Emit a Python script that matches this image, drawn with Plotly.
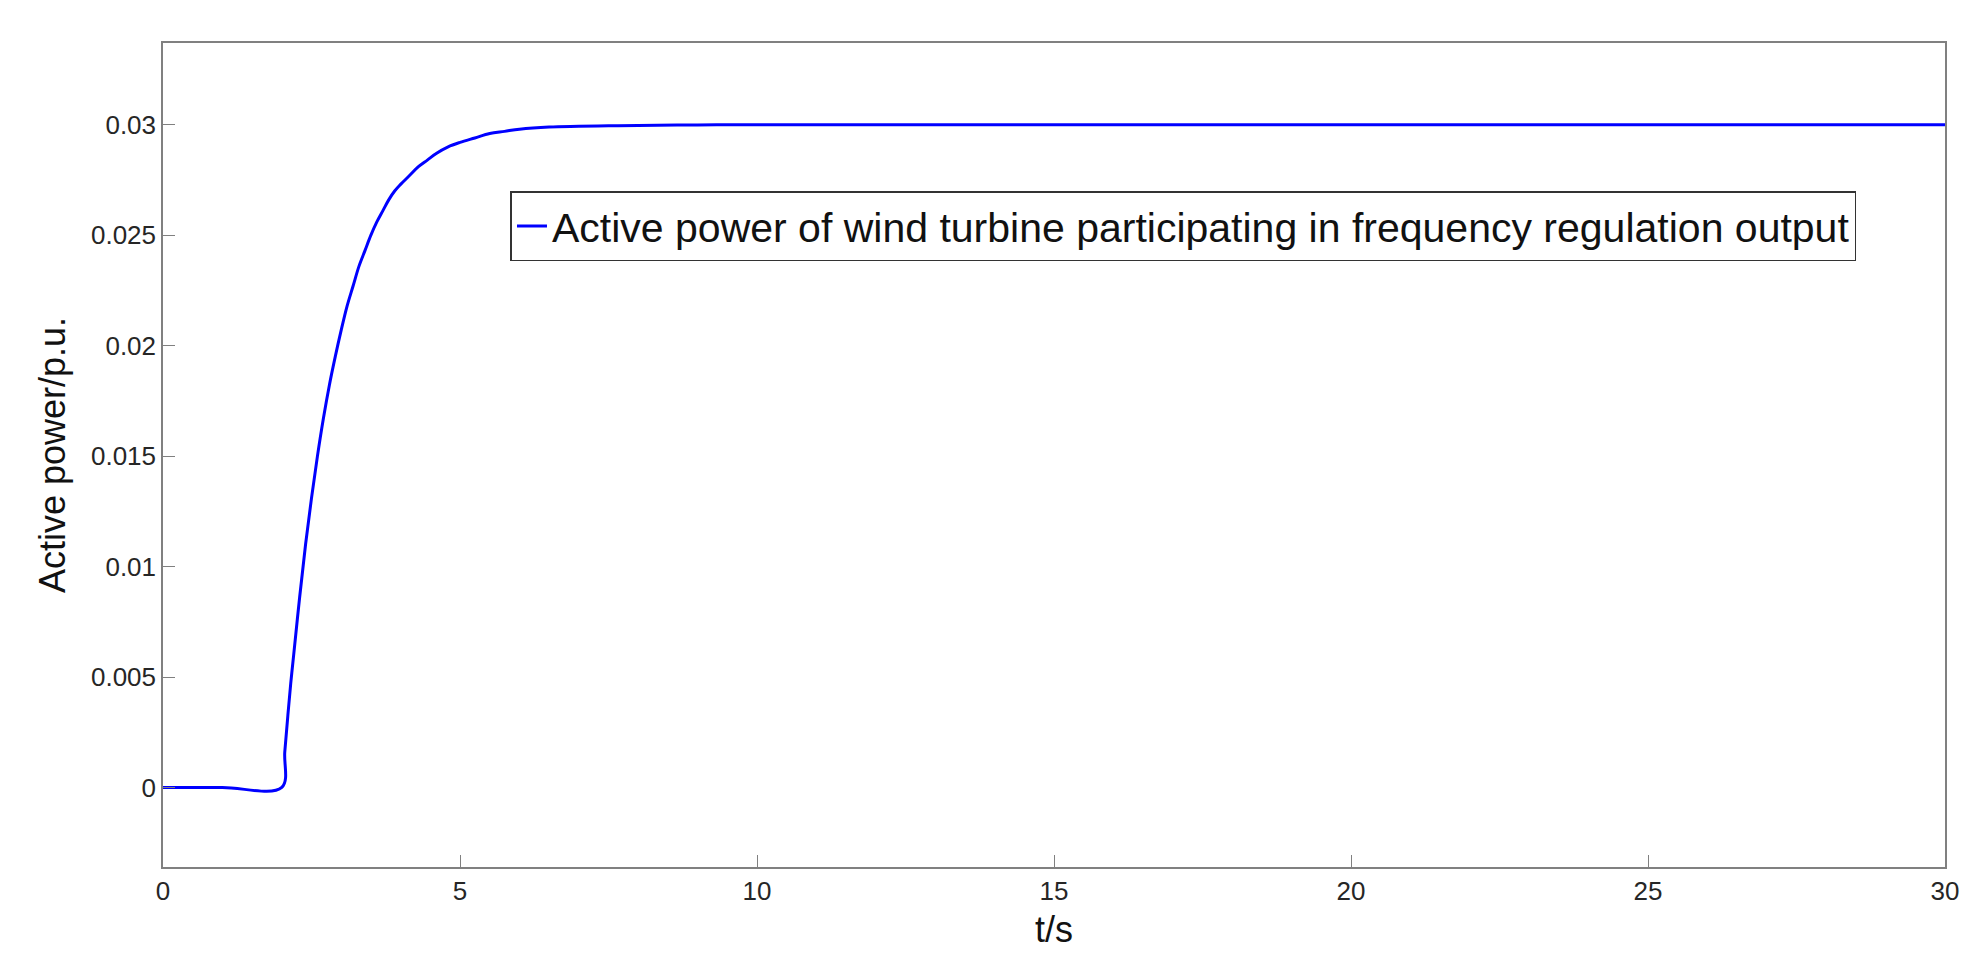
import plotly.graph_objects as go

t = [0, 1, 2, 2.05, 2.1, 2.15, 2.2, 2.3, 2.4, 2.5, 2.6, 2.7, 2.8, 2.9, 3.0, 3.1, 3.2, 3.3, 3.4, 3.5, 3.6, 3.7, 3.8, 3.9, 4.0, 4.15, 4.3, 4.45, 4.6, 4.8, 5.0, 5.25, 5.5, 5.75, 6.0, 6.5, 7, 7.5, 8, 9, 10, 12, 15, 20, 25, 30]
p = [0, 0, 0, 0.0016, 0.0032, 0.0047, 0.0060, 0.0086, 0.0110, 0.0131, 0.0150, 0.0167, 0.0182, 0.0195, 0.0207, 0.0218, 0.0227, 0.0236, 0.0243, 0.0250, 0.0256, 0.0261, 0.0266, 0.0270, 0.0273, 0.0277, 0.0281, 0.0284, 0.0287, 0.0290, 0.0292, 0.0294, 0.0296, 0.0297, 0.0298, 0.0299, 0.02993, 0.02995, 0.02997, 0.02999, 0.03, 0.03, 0.03, 0.03, 0.03, 0.03]
name = "Active power of wind turbine participating in frequency regulation output"

fig = go.Figure(go.Scatter(x=t, y=p, mode="lines", name=name, line=dict(color="#0000ff", width=3, shape="spline")))
ax = dict(showgrid=False, zeroline=False, showline=True, mirror=True, linecolor="#808080", linewidth=1.5,
          ticks="inside", ticklen=12, tickcolor="#808080", tickfont=dict(size=26, color="#262626"))
fig.update_layout(
    width=1977, height=977, paper_bgcolor="white", plot_bgcolor="white",
    margin=dict(l=155, r=40, t=35, b=118),
    font=dict(family="Liberation Sans, Arial", color="#111"),
    xaxis=dict(ax, range=[0, 30], tickvals=[0, 5, 10, 15, 20, 25, 30],
               title=dict(text="t/s", font=dict(size=36), standoff=12)),
    yaxis=dict(ax, range=[-0.0036, 0.0337], tickvals=[0, 0.005, 0.01, 0.015, 0.02, 0.025, 0.03],
               ticktext=["0", "0.005", "0.01", "0.015", "0.02", "0.025", "0.03"],
               title=dict(text="Active power/p.u.", font=dict(size=36), standoff=14)),
    showlegend=True,
    legend=dict(x=0.195, y=0.82, xanchor="left", yanchor="top", bgcolor="white",
                bordercolor="#333", borderwidth=1.5, font=dict(size=41, color="#111")),
)
fig.write_html("out.html")
